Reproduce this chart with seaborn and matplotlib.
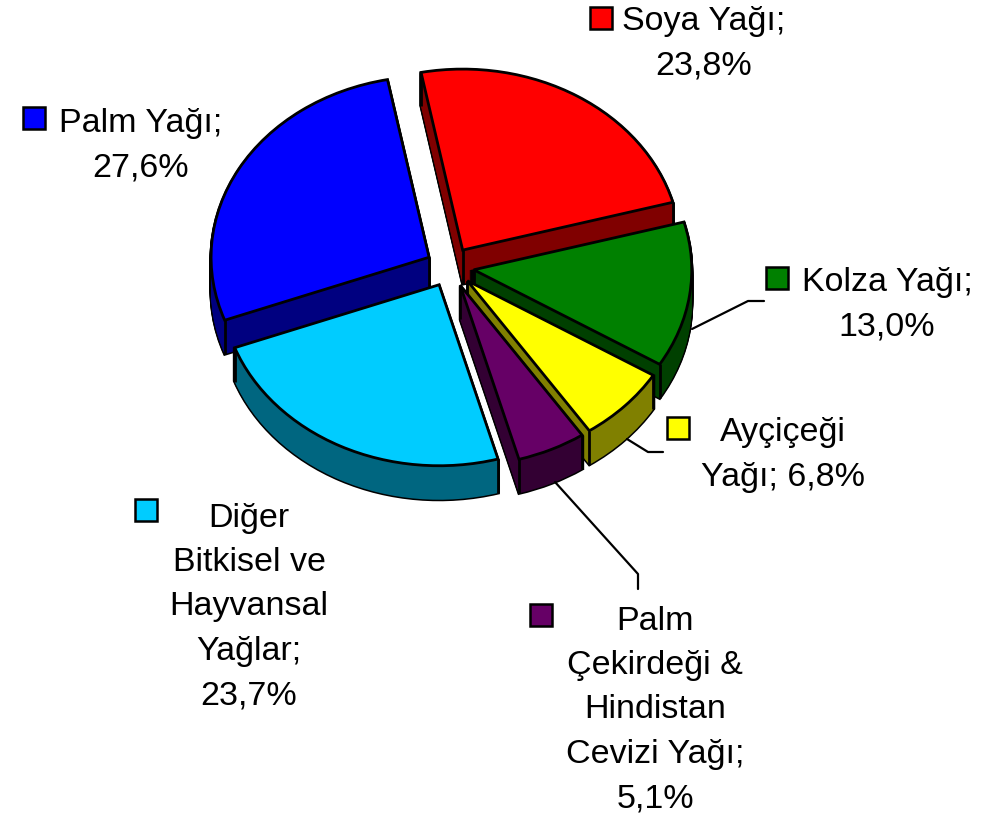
import matplotlib
matplotlib.use("Agg")
import numpy as np
import seaborn as sns
import matplotlib.pyplot as plt
from matplotlib.lines import Line2D
from matplotlib.patches import Rectangle

# bitkisel yag payi
names = ["Soya Yağı", "Kolza Yağı", "Ayçiçeği Yağı", "Palm Çekirdeği & Hindistan Cevizi Yağı",
         "Diğer Bitkisel ve Hayvansal Yağlar", "Palm Yağı"]
shares = [23.8, 13.0, 6.8, 5.1, 23.7, 27.6]
top_colors = ["#ff0000", "#008000", "#ffff00", "#660066", "#00ccff", "#0000ff"]
side_colors = ["#800000", "#004000", "#808000", "#330033", "#006680", "#000080"]
labels = ["Soya Yağı;\n23,8%", "Kolza Yağı;\n13,0%", "Ayçiçeği\nYağı; 6,8%",
          "Palm\nÇekirdeği &\nHindistan\nCevizi Yağı;\n5,1%",
          "Diğer\nBitkisel ve\nHayvansal\nYağlar;\n23,7%", "Palm Yağı;\n27,6%"]

W, H = 992, 820
RX, RY = 218, 181     # ellipse radius in px
CX, CY = 450, 268     # pie centre in px
DEPTH = 34
explode = [0.11, 0.11, 0.11, 0.11, 0.11, 0.11]
# painter order, back to front
rank = [0, 3, 4, 5, 2, 1]

label_xy = [(704, 44), (887, 305), (783, 455), (655, 710), (249, 607), (141, 146)]
key_xy = [(590, 8), (766, 268), (667, 418), (530, 605), (135, 500), (23, 108)]
leaders = [[(692, 330), (748, 302), (764, 302)],
           [(627, 440), (648, 453), (663, 453)],
           [(555, 483), (638, 575), (638, 590)]]

sns.set_theme(style="white")
plt.rcParams["font.family"] = ["Liberation Sans", "DejaVu Sans"]

fig = plt.figure(figsize=(W / 100, H / 100), dpi=100)
ax = fig.add_axes([0, 0, 1, 1])


def draw_pie(drop, cols, edge, lw, z):
    wedges, _ = ax.pie(shares, colors=cols, explode=explode, startangle=101, counterclock=False,
                       center=(0, -drop), radius=1, normalize=True,
                       wedgeprops=dict(edgecolor=edge, linewidth=lw))
    for w, r in zip(wedges, rank):
        w.set_zorder(r * 10 + z)
    return wedges


# black outline of the extruded body, then the side fill over it
for px in range(1, DEPTH + 1):
    draw_pie(px / RY, ["black"] * 6, "black", 2.2, 1)
for px in range(1, DEPTH + 1):
    draw_pie(px / RY, side_colors, "none", 0, 2)

tops = draw_pie(0, top_colors, "black", 2.0, 5)

# vertical edges at the wedge corners
for w, r in zip(tops, rank):
    cx, cy = w.center
    corners = [(cx, cy)]
    for ang in (w.theta1, w.theta2):
        corners.append((cx + np.cos(np.radians(ang)), cy + np.sin(np.radians(ang))))
    for x, y in corners:
        ax.plot([x, x], [y, y - DEPTH / RY], color="black", lw=2, zorder=r * 10 + 3, solid_capstyle="butt")

# px scale: ellipse comes from non-equal axes
ax.set_aspect("auto")
ax.set_xlim(-CX / RX, (W - CX) / RX)
ax.set_ylim((CY - H) / RY, CY / RY)
ax.axis("off")

for pts in leaders:
    xs = [p[0] / W for p in pts]
    ys = [1 - p[1] / H for p in pts]
    fig.add_artist(Line2D(xs, ys, color="black", lw=1.6, zorder=1))

for lab, (x, y), (kx, ky), col in zip(labels, label_xy, key_xy, top_colors):
    fig.text(x / W, 1 - y / H, lab, ha="center", va="center", fontsize=24.5,
             linespacing=1.56, color="black")
    fig.add_artist(Rectangle((kx / W, 1 - (ky + 22) / H), 22 / W, 22 / H, transform=fig.transFigure,
                             facecolor=col, edgecolor="black", lw=1.8))

fig.savefig("out.png", dpi=100, facecolor="white")
